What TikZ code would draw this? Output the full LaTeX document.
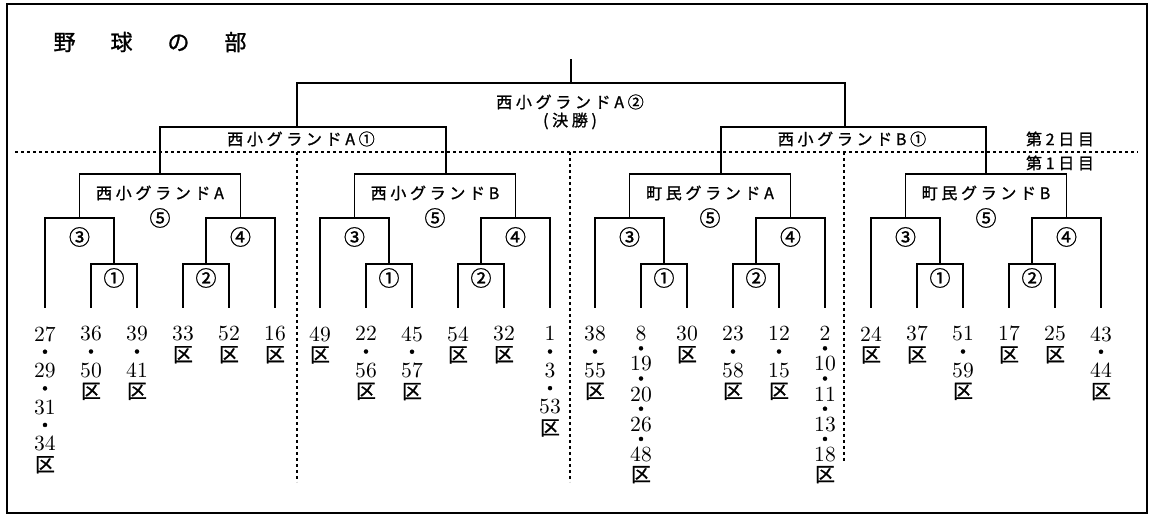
\documentclass[tikz,border=0pt]{standalone}
\usepackage{fontspec}
\newfontfamily\jp{Noto Sans CJK JP}[LetterSpace=23, FakeBold=1.2]
\newfontfamily\jpc{Noto Sans CJK JP}[FakeBold=1.2]
\newfontfamily\jpk{Noto Sans CJK JP}[Scale=0.92, FakeBold=1]
\usetikzlibrary{positioning}
\newcommand{\ku}{{\jpk 区}}
\newcommand{\nk}{{\jpk ・}}
\tikzset{
  brk/.style={line width=0.8pt, line cap=rect},
  frame/.style={line width=0.9pt},
  sep/.style={line width=0.7pt, dash pattern=on 1.4pt off 1.6pt},
  lbl/.style={inner sep=0pt, font=\jp\fontsize{8}{9.6}\selectfont},
  circ/.style={inner sep=0pt, font=\jpc\fontsize{10.5}{12}\selectfont},
  num/.style={anchor=north, inner sep=0pt, align=center, font=\fontsize{10.8}{9.15}\selectfont},
  numtight/.style={num, font=\fontsize{10.8}{7.55}\selectfont},
}
\begin{document}
\begin{tikzpicture}[x=0.5pt, y=-0.5pt]
\useasboundingbox (0,0) rectangle (1150,517);
\draw[frame] (7,4) rectangle (1147,513);
\node[inner sep=0pt, font=\jpc\fontsize{11}{12}\selectfont] (title) at (150,42) {野\hspace{17.5pt}球\hspace{17.5pt}の\hspace{17.5pt}部};

% day separator
\coordinate (sepL) at (15,152);
\coordinate (sepR) at (1138,152);
\draw[sep] (sepL) -- (sepR);
\foreach \s/\e in {297/482, 570/482, 844/461}{
  \coordinate (s\s) at (\s,152);
  \coordinate (e\s) at (\s,\e);
  \draw[sep] (s\s) -- (e\s);
}
\node[lbl] (day2) at (1060,139) {第2日目};
\node[lbl] (day1) at (1060,163) {第1日目};

% first day brackets
\foreach \g/\X/\gname in {0/0/西小グランドA, 1/275/西小グランドB, 2/550/町民グランドA, 3/826/町民グランドB}{
  \foreach \i/\dx in {1/45, 2/91, 3/137, 4/183, 5/229, 6/275}
    \coordinate (\g-l\i) at (\X+\dx,307);
  \coordinate (\g-j1) at (\X+114,264);
  \coordinate (\g-j2) at (\X+206,264);
  \coordinate (\g-j3) at (\X+79.5,218);
  \coordinate (\g-j4) at (\X+240.5,218);
  \coordinate (\g-jg) at (\X+160,174);
  \draw[brk] (\g-l2) |- (\g-j1) -| (\g-l3);
  \draw[brk] (\g-l4) |- (\g-j2) -| (\g-l5);
  \draw[brk] (\g-l1) |- (\g-j3) -| (\g-j1);
  \draw[brk] (\g-j2) |- (\g-j4) -| (\g-l6);
  \draw[brk] (\g-j3) |- (\g-jg) -| (\g-j4);
  \node[lbl] (\g-name) at (\X+160,193) {\gname};
  \node[circ] (\g-c5) at (\X+160,218) {⑤};
  \node[circ] (\g-c3) at (\X+79.5,237) {③};
  \node[circ] (\g-c4) at (\X+240.5,237) {④};
  \node[circ] (\g-c1) at (\X+114,278) {①};
  \node[circ] (\g-c2) at (\X+206,278) {②};
}

% second day brackets
\coordinate (1-hit) at (446,174);
\coordinate (2-hit) at (721,174);
\coordinate (ja1) at (297,127);
\coordinate (jb1) at (845,127);
\coordinate (ja2) at (571,83);
\coordinate (top) at (571,60);
\draw[brk] (0-jg) |- (ja1) -| (1-hit);
\draw[brk] (2-hit) |- (jb1) -| (3-jg);
\draw[brk] (ja1) |- (ja2) -| (jb1);
\draw[brk] (ja2) -- (top);
\node[lbl] (a1) at (301,139) {西小グランドA①};
\node[lbl] (b1) at (852,139) {西小グランドB①};
\node[lbl] (a2) at (570,102) {西小グランドA②};
\node[lbl] (final) at (570,121) {(決勝)};

% districts
\node[num, below=9.5pt of 0-l1] (0-t1) {27\\\nk\\29\\\nk\\31\\\nk\\34\\[1.3pt]\ku};
\node[num, below=9.5pt of 0-l2] (0-t2) {36\\\nk\\50\\[1.3pt]\ku};
\node[num, below=9.5pt of 0-l3] (0-t3) {39\\\nk\\41\\[1.3pt]\ku};
\node[num, below=9.5pt of 0-l4] (0-t4) {33\\[1.3pt]\ku};
\node[num, below=9.5pt of 0-l5] (0-t5) {52\\[1.3pt]\ku};
\node[num, below=9.5pt of 0-l6] (0-t6) {16\\[1.3pt]\ku};
\node[num, below=9.5pt of 1-l1] (1-t1) {49\\[1.3pt]\ku};
\node[num, below=9.5pt of 1-l2] (1-t2) {22\\\nk\\56\\[1.3pt]\ku};
\node[num, below=9.5pt of 1-l3] (1-t3) {45\\\nk\\57\\[1.3pt]\ku};
\node[num, below=9.5pt of 1-l4] (1-t4) {54\\[1.3pt]\ku};
\node[num, below=9.5pt of 1-l5] (1-t5) {32\\[1.3pt]\ku};
\node[num, below=9.5pt of 1-l6] (1-t6) {1\\\nk\\3\\\nk\\53\\[1.3pt]\ku};
\node[num, below=9.5pt of 2-l1] (2-t1) {38\\\nk\\55\\[1.3pt]\ku};
\node[numtight, below=9.5pt of 2-l2] (2-t2) {8\\\nk\\19\\\nk\\20\\\nk\\26\\\nk\\48\\[1pt]\ku};
\node[num, below=9.5pt of 2-l3] (2-t3) {30\\[1.3pt]\ku};
\node[num, below=9.5pt of 2-l4] (2-t4) {23\\\nk\\58\\[1.3pt]\ku};
\node[num, below=9.5pt of 2-l5] (2-t5) {12\\\nk\\15\\[1.3pt]\ku};
\node[numtight, below=9.5pt of 2-l6] (2-t6) {2\\\nk\\10\\\nk\\11\\\nk\\13\\\nk\\18\\[1pt]\ku};
\node[num, below=9.5pt of 3-l1] (3-t1) {24\\[1.3pt]\ku};
\node[num, below=9.5pt of 3-l2] (3-t2) {37\\[1.3pt]\ku};
\node[num, below=9.5pt of 3-l3] (3-t3) {51\\\nk\\59\\[1.3pt]\ku};
\node[num, below=9.5pt of 3-l4] (3-t4) {17\\[1.3pt]\ku};
\node[num, below=9.5pt of 3-l5] (3-t5) {25\\[1.3pt]\ku};
\node[num, below=9.5pt of 3-l6] (3-t6) {43\\\nk\\44\\[1.3pt]\ku};
\end{tikzpicture}
\end{document}
